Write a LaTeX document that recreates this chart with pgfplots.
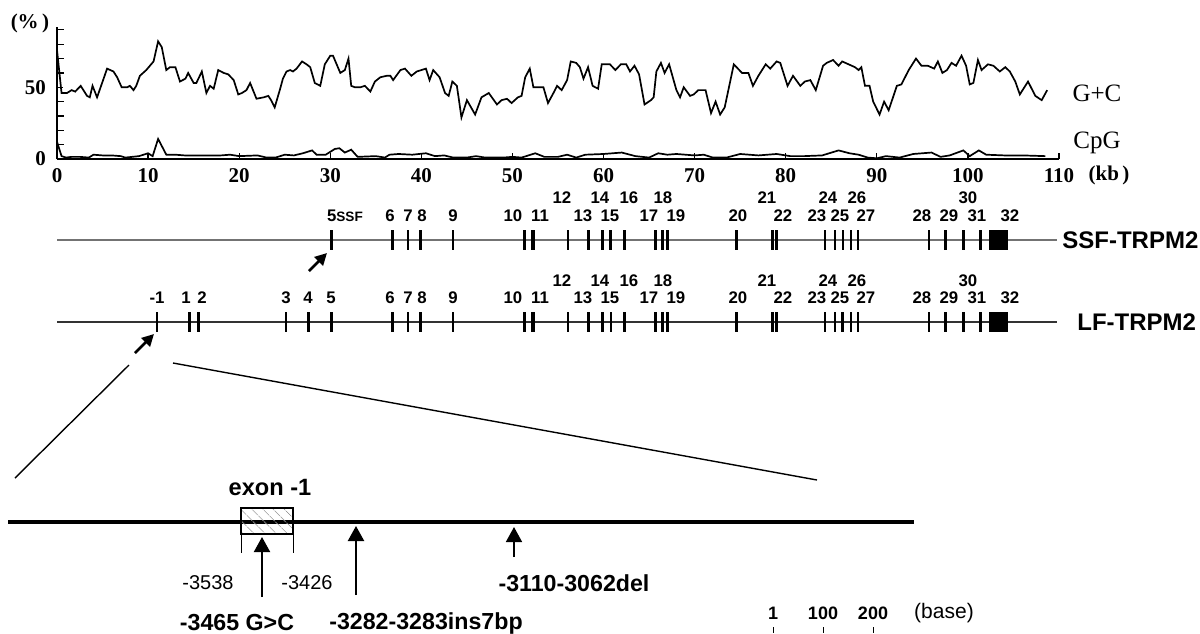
\documentclass[border=0pt]{standalone}
\usepackage{fontspec}
\setmainfont{Liberation Serif}
\newfontfamily\arial{Liberation Sans}
\usepackage{pgfplots}
\pgfplotsset{compat=1.18}
\usetikzlibrary{arrows.meta,patterns.meta}

\newcommand\exf{\arial\bfseries\fontsize{8.4}{10}\selectfont}
\tikzset{exl/.style={anchor=base, inner sep=0pt, font=\exf}}
\newcommand\lowrow[1]{%
\node[exl] at (axis cs:36.55,#1) {6};
\node[exl] at (axis cs:38.53,#1) {7};
\node[exl] at (axis cs:40.07,#1) {8};
\node[exl] at (axis cs:43.47,#1) {9};
\node[exl] at (axis cs:50.05,#1) {10};
\node[exl] at (axis cs:53.02,#1) {11};
\node[exl] at (axis cs:57.74,#1) {13};
\node[exl] at (axis cs:60.70,#1) {15};
\node[exl] at (axis cs:64.98,#1) {17};
\node[exl] at (axis cs:67.95,#1) {19};
\node[exl] at (axis cs:74.75,#1) {20};
\node[exl] at (axis cs:79.69,#1) {22};
\node[exl] at (axis cs:83.42,#1) {23};
\node[exl] at (axis cs:85.95,#1) {25};
\node[exl] at (axis cs:88.80,#1) {27};
\node[exl] at (axis cs:94.95,#1) {28};
\node[exl] at (axis cs:97.91,#1) {29};
\node[exl] at (axis cs:100.99,#1) {31};
\node[exl] at (axis cs:104.61,#1) {32};}
\newcommand\uprow[1]{%
\node[exl] at (axis cs:55.43,#1) {12};
\node[exl] at (axis cs:59.60,#1) {14};
\node[exl] at (axis cs:62.79,#1) {16};
\node[exl] at (axis cs:66.52,#1) {18};
\node[exl] at (axis cs:77.94,#1) {21};
\node[exl] at (axis cs:84.63,#1) {24};
\node[exl] at (axis cs:87.82,#1) {26};
\node[exl] at (axis cs:100.0,#1) {30};}

\begin{document}
\begin{tikzpicture}
\path[use as bounding box] (0,0) rectangle (600pt,-316.5pt);

% ---------- G+C / CpG plot ----------
\begin{axis}[at={(28.5pt,-79.5pt)}, anchor=south west, scale only axis,
  width=501pt, height=66pt, xmin=0, xmax=110, ymin=0, ymax=92,
  enlargelimits=false, axis x line=bottom, axis y line=left,
  axis line style={-, line width=1pt},
  xtick={0,10,...,110}, ytick={0,50}, minor ytick={10,20,30,40,60,70,80,90},
  tick align=inside, major tick length=3pt, minor tick length=3.5pt,
  tick style={line width=0.6pt, black},
  tick label style={font=\bfseries\fontsize{10.5}{12}\selectfont},
  /pgf/number format/assume math mode=true,
  xticklabel style={yshift=-1pt}, yticklabel style={xshift=-2pt},
  clip=false]
\addplot[line width=0.85pt] coordinates {
(0.0,76)(0.5,46)(1.1,46)(1.6,48)(2.0,47)(2.6,51)(3.3,44)(3.6,43)(3.9,51)(4.4,43)(5.5,63)(6.2,61)(6.6,57)(7.1,50)(7.7,50)(8.0,51)(8.4,48)(8.7,51)(9.1,58)(9.8,62)(10.6,68)(11.1,82)(11.5,78)(12.0,62)(12.4,64)(13.0,64)(13.5,54)(14.1,56)(14.4,60)(15.0,53)(15.3,53)(15.9,61)(16.4,46)(16.8,51)(17.2,49)(17.7,62)(18.3,60)(18.8,59)(19.4,55)(19.9,45)(20.3,46)(20.8,48)(21.2,53)(21.9,42)(22.7,43)(23.2,44)(23.5,41)(23.9,36)(24.5,49)(24.8,56)(25.2,61)(25.6,62)(25.9,61)(26.3,63)(26.9,68)(27.4,66)(27.8,64)(28.3,53)(28.9,51)(29.4,66)(30.0,72)(30.3,72)(31.1,60)(31.6,62)(32.0,70)(32.3,51)(32.7,50)(33.3,50)(33.8,51)(34.4,47)(34.9,54)(35.5,57)(36.2,58)(36.6,58)(36.9,55)(37.7,62)
(38.2,63)(38.9,58)(39.5,61)(40.5,63)(40.9,55)(41.3,62)(42.0,57)(42.6,46)(43.0,44)(43.4,54)(43.9,51)(44.4,29)(45.0,41)(45.9,31)(46.6,43)(47.4,46)(48.3,38)(48.8,41)(49.4,42)(49.9,39)(50.6,43)(51.0,44)(51.4,57)(51.9,63)(52.3,50)(53.4,50)(53.9,39)(54.5,46)(54.9,51)(55.4,48)(56.0,55)(56.4,68)(57.0,67)(57.4,64)(57.8,56)(58.3,64)(58.8,51)(59.4,49)(59.8,66)(60.7,66)(61.3,62)(61.9,66)(62.5,66)(62.9,61)(63.4,65)(63.9,59)(64.5,38)(65.2,41)(65.5,43)(65.8,61)(66.3,67)(66.7,60)(67.2,66)(68.0,48)(68.4,43)(68.8,50)(69.5,44)(69.9,45)(70.4,48)(71.2,48)(71.8,32)(72.3,40)(72.8,31)(73.3,36)(74.3,66)(75.2,60)(75.9,60)(76.4,51)(77.0,58)(77.8,66)(78.3,63)(79.0,68)(79.4,67)(80.2,51)(80.8,58)(81.6,51)
(82.1,54)(82.7,55)(83.3,48)(84.1,65)(84.5,67)(85.2,69)(85.8,65)(86.2,68)(86.9,66)(87.6,64)(88.0,62)(88.3,64)(88.7,51)(89.2,51)(89.6,40)(90.3,31)(90.8,40)(91.3,34)(92.2,51)(92.7,52)(93.5,62)(94.3,70)(94.9,65)(95.6,65)(96.3,63)(96.7,68)(97.2,60)(97.7,62)(98.2,67)(98.7,65)(99.3,72)(99.8,65)(100.2,52)(100.6,53)(101.1,69)(101.5,62)(102.2,66)(102.8,65)(103.5,61)(104.1,64)(104.6,61)(105.2,54)(105.7,45)(106.6,54)(107.4,44)(108.1,41)(108.7,48)};
\addplot[line width=0.85pt] coordinates {
(0,12)(0.5,2)(1.0,1)(1.6,1.5)(2.5,1.5)(3.5,1)(4.0,3)(5,2.5)(6,2.5)(7,2)(7.5,1)(9,2)(10,4)(10.5,2)(11.1,14)(12,3)(13,3)(14,2.5)(16,2.5)(18,2.5)(19,3)(20,2)(22,2.5)(23,1)(24,1)(25,3)(26,2.5)(27,4)(28,6)(28.5,3)(29.5,3)(30.5,7)(31,7.5)(31.6,4.5)(32.3,6.5)(33,1.5)(35,2)(36,1)(36.5,3)(37.5,3.5)(39,3)(40.5,4)(41.5,2)(42.5,2.5)(43.5,1)(45,1)(46,2)(47,1)(49,1)(50,1.5)(51,1)(52.5,4)(53.5,1.5)(55,1.5)(56,3)(57,1)(58,3)(60,3.5)(62,4.5)(63.5,2)(65,1)(66,4)(67,3)(68,3.5)(70,2.5)(71,3)(72,1)(73.5,1)(75,3.5)(77,2.5)(79,3.5)(80.5,2)(82,2)(84,2.5)(85.8,6)(87,4)(88,3)(89,1)(90,0.5)(91,2)(92.5,1)(94,3.5)(96,4.5)(97,1.5)(98,2.5)(99.5,6)(100.2,2)(101.2,6)(102,3)(104,2.5)(106,2.5)(108.5,2)};
\end{axis}

% ---------- exon maps ----------
\begin{axis}[at={(28.5pt,-181.5pt)}, anchor=south west, scale only axis,
  width=501pt, height=82pt, xmin=0, xmax=110, ymin=-0.5, ymax=1.5,
  enlargelimits=false, hide axis, clip=false]
\addplot[line width=0.9pt, black!55] coordinates {(0,1)(109.8,1)};
\addplot[line width=0.6pt, black!80] coordinates {(0,0)(109.8,0)};
% SSF exons
\addplot[only marks, black, mark=|, mark size=5pt, mark options={line width=0.6pt}] coordinates {(38.53,1)(43.47,1)(95.72,1)};
\addplot[only marks, black, mark=|, mark size=5pt, mark options={line width=1pt}] coordinates {(56.09,1)(84.30,1)(85.40,1)(86.28,1)(87.16,1)(87.93,1)};
\addplot[only marks, black, mark=|, mark size=5pt, mark options={line width=1.5pt}] coordinates {(30.08,1)(36.88,1)(39.85,1)(51.37,1)(58.40,1)(59.93,1)(60.81,1)(62.35,1)(65.75,1)(66.52,1)(67.07,1)(74.64,1)(78.59,1)(79.03,1)(97.59,1)(99.56,1)(101.43,1)};
\addplot[only marks, black, mark=|, mark size=5pt, mark options={line width=2.4pt}] coordinates {(52.25,1)};
\addplot[only marks, black, mark=square*, mark size=4.6pt] coordinates {(103.35,1)};
% LF exons
\addplot[only marks, black, mark=|, mark size=5pt, mark options={line width=0.6pt}] coordinates {(38.53,0)(60.81,0)(95.72,0)};
\addplot[only marks, black, mark=|, mark size=5pt, mark options={line width=1pt}] coordinates {(10.98,0)(25.14,0)(43.47,0)(56.09,0)(84.30,0)(85.40,0)(87.16,0)(87.93,0)};
\addplot[only marks, black, mark=|, mark size=5pt, mark options={line width=1.5pt}] coordinates {(14.60,0)(15.48,0)(27.66,0)(30.08,0)(36.88,0)(39.85,0)(51.37,0)(58.40,0)(59.93,0)(62.35,0)(65.75,0)(66.52,0)(67.07,0)(74.64,0)(78.59,0)(79.03,0)(86.28,0)(97.59,0)(99.56,0)(101.43,0)};
\addplot[only marks, black, mark=|, mark size=5pt, mark options={line width=2.4pt}] coordinates {(52.25,0)};
\addplot[only marks, black, mark=square*, mark size=4.6pt] coordinates {(103.35,0)};
% labels
\node[exl, anchor=base west] at (axis cs:29.6,1.225) {5{\fontsize{6.8}{8}\selectfont SSF}};
\lowrow{1.225}
\uprow{1.44}
\node[exl] at (axis cs:10.98,0.22) {-1};
\node[exl] at (axis cs:14.16,0.22) {1};
\node[exl] at (axis cs:15.92,0.22) {2};
\node[exl] at (axis cs:25.14,0.22) {3};
\node[exl] at (axis cs:27.55,0.22) {4};
\node[exl] at (axis cs:30.08,0.22) {5};
\lowrow{0.22}
\uprow{0.43}
\end{axis}

% ---------- annotations (pixel frame) ----------
\begin{axis}[at={(0pt,0pt)}, anchor=north west, scale only axis,
  width=600pt, height=316.5pt, xmin=0, xmax=1200, ymin=0, ymax=633,
  y dir=reverse, enlargelimits=false, hide axis, clip=false]
\node[font=\bfseries\fontsize{10.5}{12}\selectfont] at (axis cs:30,23) {(\%\,)};
\node[font=\bfseries\fontsize{10.5}{12}\selectfont] at (axis cs:1109,175) {(kb\,)};
\node[font=\fontsize{12.5}{14}\selectfont] at (axis cs:1097,93) {G+C};
\node[font=\fontsize{12.5}{14}\selectfont] at (axis cs:1097,143) {CpG};
\node[font=\arial\bfseries\fontsize{12}{14}\selectfont, anchor=west, inner sep=0pt] at (axis cs:1062,240) {SSF-TRPM2};
\node[font=\arial\bfseries\fontsize{12}{14}\selectfont, anchor=west, inner sep=0pt] at (axis cs:1077,322) {LF-TRPM2};
\draw[line width=1.4pt, -{Triangle[length=6pt,width=6pt]}] (axis cs:309,271) -- (axis cs:327,253);
\draw[line width=1.4pt, -{Triangle[length=6pt,width=6pt]}] (axis cs:135,353) -- (axis cs:154,334);
\draw[line width=0.7pt] (axis cs:15,478) -- (axis cs:129,365);
\draw[line width=0.7pt] (axis cs:173,363) -- (axis cs:817,480);
\draw[line width=2pt] (axis cs:8,522) -- (axis cs:914,522);
\draw[line width=0.6pt, pattern={Lines[angle=135,distance=4pt,line width=0.35pt]}, pattern color=black!45] (axis cs:241,508) rectangle (axis cs:293,534);
\draw[line width=0.5pt] (axis cs:241,534) -- (axis cs:241,553);
\draw[line width=0.5pt] (axis cs:293,534) -- (axis cs:293,553);
\node[font=\arial\bfseries\fontsize{11.8}{13}\selectfont] at (axis cs:270,487) {exon -1};
\node[font=\arial\fontsize{10}{12}\selectfont] at (axis cs:208,583) {-3538};
\node[font=\arial\fontsize{10}{12}\selectfont] at (axis cs:307,583) {-3426};
\draw[line width=1pt, -{Triangle[length=7.5pt,width=8pt]}] (axis cs:262,597) -- (axis cs:262,537);
\draw[line width=1.1pt, -{Triangle[length=7.5pt,width=8pt]}] (axis cs:356,595) -- (axis cs:356,526);
\draw[line width=0.8pt, -{Triangle[length=7.5pt,width=8pt]}] (axis cs:514,557) -- (axis cs:514,527);
\node[font=\arial\bfseries\fontsize{11.6}{13}\selectfont] at (axis cs:237,623) {-3465 G>C};
\node[font=\arial\bfseries\fontsize{11.6}{13}\selectfont] at (axis cs:426,623) {-3282-3283ins7bp};
\node[font=\arial\bfseries\fontsize{11.6}{13}\selectfont] at (axis cs:574,583) {-3110-3062del};
\node[font=\arial\bfseries\fontsize{9}{10}\selectfont] at (axis cs:773,613) {1};
\node[font=\arial\bfseries\fontsize{9}{10}\selectfont] at (axis cs:823,613) {100};
\node[font=\arial\bfseries\fontsize{9}{10}\selectfont] at (axis cs:873,613) {200};
\node[font=\arial\fontsize{10.5}{12}\selectfont] at (axis cs:944,613) {(base)};
\draw[line width=0.4pt] (axis cs:773,627) -- (axis cs:773,633);
\draw[line width=0.4pt] (axis cs:823,627) -- (axis cs:823,633);
\draw[line width=0.4pt] (axis cs:873,627) -- (axis cs:873,633);
\end{axis}
\end{tikzpicture}
\end{document}
